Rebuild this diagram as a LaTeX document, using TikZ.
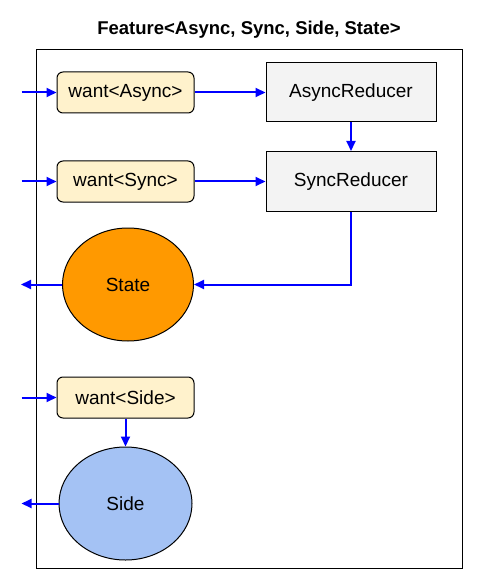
\documentclass[tikz,border=0pt]{standalone}
\usepackage{fontspec}
\setmainfont{Liberation Sans}
\usepackage{tikz}
\usetikzlibrary{positioning, arrows.meta, shapes.geometric}
\definecolor{wantfill}{HTML}{FFF2CC}
\definecolor{redfill}{HTML}{F3F3F3}
\definecolor{statefill}{HTML}{FF9900}
\definecolor{sidefill}{HTML}{A4C2F4}
\tikzset{%
  x=1pt, y=1pt,
  node distance=40pt, % default gap between nodes
  wantbox/.style={draw, fill=wantfill, rounded corners=6pt, minimum width=137pt, minimum height=41pt, line width=1pt},
  redbox/.style={draw, fill=redfill, minimum width=170pt, minimum height=59pt, line width=1pt},
  blob/.style={draw, shape=ellipse, inner sep=0pt, minimum width=132pt, minimum height=113pt, line width=1pt},
  flow/.style={draw=blue, line width=2pt, -{Triangle[length=10pt,width=9pt]}}
}

\begin{document}
\begin{tikzpicture}[font=\fontsize{19}{22}\selectfont]
\useasboundingbox (0,0) rectangle (482,-577);

\node[draw, line width=1pt, minimum width=426pt, minimum height=518pt] (feat) at (249,-309) {};
\node[font=\fontsize{18.5}{21}\selectfont\bfseries] (title) at (249,-30) {Feature<Async, Sync, Side, State>};

\node[wantbox] (wa) at (125.5,-92.5) {want<Async>};
\node[redbox, right=71pt of wa] (ar) {AsyncReducer};
\node[wantbox, below=47pt of wa] (ws) {want<Sync>};
\node[redbox, minimum height=60pt, right=71pt of ws] (sr) {SyncReducer};
\node[blob, fill=statefill, minimum width=131pt, below=25pt of ws, xshift=2.5pt] (st) {State};
\node[wantbox, below=35pt of st, xshift=-2.5pt] (wsd) {want<Side>};
\node[blob, fill=sidefill, minimum width=133pt, below=28pt of wsd] (sd) {Side};

% loose ends outside the frame
\coordinate[left=35pt of wa.west] (inA);
\coordinate[left=35pt of ws.west] (inS);
\coordinate[left=35pt of wsd.west] (inD);
\coordinate[left=41pt of st.west] (outS);
\coordinate[left=37pt of sd.west] (outD);

\draw[flow] (inA) -- (wa);
\draw[flow] (inS) -- (ws);
\draw[flow] (inD) -- (wsd);
\draw[flow] (wa) -- (ar);
\draw[flow] (ws) -- (sr);
\draw[flow] (ar) -- (sr);
\draw[flow] (sr.south) |- (st.east);
\draw[flow] (st.west) -- (outS);
\draw[flow] (wsd) -- (sd);
\draw[flow] (sd.west) -- (outD);

\end{tikzpicture}
\end{document}
